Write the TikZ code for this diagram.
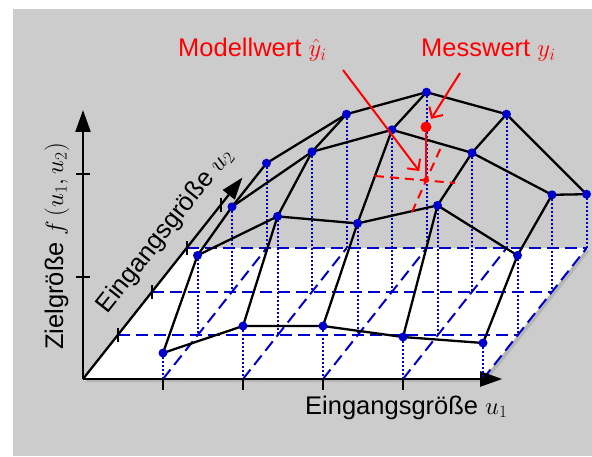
\documentclass[tikz,border=0pt]{standalone}
\usepackage{xcolor}
\usepackage{fontspec}
\setmainfont{Liberation Sans}
\usepackage{tikz}
\usetikzlibrary{arrows.meta,shadows}
\definecolor{meshblue}{RGB}{0,0,205}
\definecolor{panel}{RGB}{204,204,204}

\begin{document}
\begin{tikzpicture}[
  x=1pt,y=1pt,
  font=\fontsize{25.5}{30}\selectfont,
  axis/.style={line width=2.3pt,-{Triangle[length=22pt,width=15pt]}},
  tick/.style={line width=2pt},
  mesh/.style={line width=2.3pt,line join=round},
  dot/.style={circle,fill=meshblue,inner sep=0pt,minimum size=9pt},
  drop/.style={meshblue,line width=2pt,dash pattern=on 2pt off 2pt},
  floorgrid/.style={meshblue,line width=2pt,dash pattern=on 12pt off 6pt},
  reddot/.style={circle,fill=red,inner sep=0pt,minimum size=11pt},
  redpt/.style={circle,fill=red,inner sep=0pt,minimum size=6pt},
  reddash/.style={red,line width=2pt,dash pattern=on 9pt off 6pt},
  redarr/.style={red,line width=2pt,-{Straight Barb[length=8pt,width=16pt]}},
  lbl/.style={inner sep=0pt,anchor=base west}
]
\useasboundingbox (0,0) rectangle (592,456);
\fill[panel] (13,0) rectangle (592,447);

\begin{scope}[shift={(83,77)},x={(80pt,0pt)},y={(34.5pt,43.6pt)},z={(0pt,1pt)}]
% floor
\fill[white,drop shadow={shadow xshift=3pt,shadow yshift=-3pt,opacity=.3}]
  (0,0) -- (5,0) -- (5,3) -- (0,3) -- cycle;
\foreach \k in {1,2,3}
  \draw[floorgrid] (0,\k) -- (5,\k);
\foreach \i in {1,...,5}
  \draw[floorgrid] (\i,0) -- (\i,3);

% axes
\coordinate (o) at (0,0,0);
\coordinate (u1end) at (5.24,0,0);
\coordinate (u2end) at (0,4.62,0);
\coordinate (fend) at (0,0,269);
\draw[axis] (o) -- (u1end);
\draw[axis] (o) -- (u2end);
\draw[axis] (o) -- (fend);
\foreach \i in {1,...,4}
  \draw[tick] (\i,0,0) -- ++(0pt,-11pt);
\foreach \k in {1,...,4}
  \draw[tick] (0,\k,0) ++(0pt,-7pt) -- ++(0pt,14pt);
\foreach \h in {102,205}
  \draw[tick] (0,0,\h) ++(-7pt,0pt) -- ++(14pt,0pt);

% surface points
\foreach \j/\hs in {0/{26,53,53,42,36},1/{80,119,112,130,80},2/{85,140,162,139,97},3/{85,134,156,134,54}}
  \foreach \h [count=\i] in \hs {
    \coordinate (f-\i-\j) at (\i,\j,0);
    \coordinate (p-\i-\j) at (\i,\j,\h);
  }
\end{scope}

\foreach \i in {1,...,5}
  \foreach \j in {0,...,3}
    \draw[drop] (p-\i-\j) -- (f-\i-\j);
\foreach \j in {0,...,3}
  \draw[mesh] (p-1-\j) -- (p-2-\j) -- (p-3-\j) -- (p-4-\j) -- (p-5-\j);
\foreach \i in {1,...,5}
  \draw[mesh] (p-\i-0) -- (p-\i-1) -- (p-\i-2) -- (p-\i-3);
\foreach \i in {1,...,5}
  \foreach \j in {0,...,3}
    \node[dot] (d-\i-\j) at (p-\i-\j) {};

% measured and model value
\node[reddot] (ymess) at (426,329) {};
\node[redpt] (yhat) at (426,276) {};
\coordinate (ta) at (375,280);
\coordinate (tb) at (455,273);
\coordinate (tc) at (412,244);
\coordinate (td) at (442,311);
\draw[reddash] (ta) -- (tb);
\draw[reddash] (tc) -- (td);
\draw[red,line width=2pt] (ymess) -- (yhat);

% labels
\node[lbl,text=red] (modell) at (178,399) {Modellwert $\hat{y}_i$};
\node[lbl,text=red] (messw) at (421,399) {Messwert $y_i$};
\draw[redarr,shorten >=8pt] ([shift={(165pt,-13pt)}]modell.base west) -- (yhat);
\draw[redarr,shorten >=4pt] ([shift={(39pt,-16pt)}]messw.base west) -- (ymess);

\node[lbl] (u1lbl) at (305,42) {Eingangsgröße $u_1$};
\node[lbl,rotate=90] (flbl) at (63,106) {Zielgröße $f\,(u_1,u_2)$};
\node[lbl,rotate=51.6] (u2lbl) at (107.5,141.7) {Eingangsgröße $u_2$};
\end{tikzpicture}
\end{document}
